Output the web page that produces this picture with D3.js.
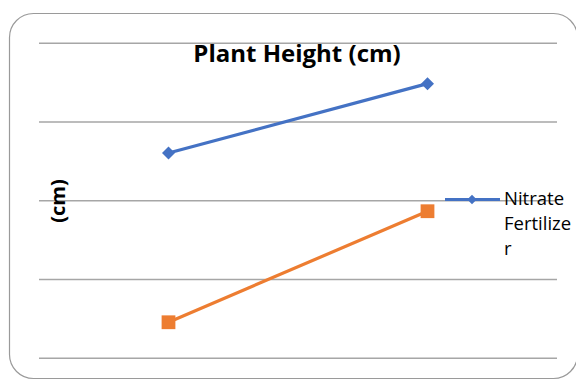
<!DOCTYPE html>
<html>
<head>
<meta charset="utf-8">
<script src="https://cdn.jsdelivr.net/npm/d3@7"></script>
<style>
  html, body { margin: 0; padding: 0; background: #ffffff; }
  svg { display: block; font-family: "Open Sans", sans-serif; }
</style>
</head>
<body>
<svg id="chart" width="576" height="381"></svg>
<script>
// Chart data
const categories = ["Week 1", "Week 2"];
const seriesNames = ["Nitrate Fertilizer", "Control"];
const nitrateValues = [26.0, 34.8];
const controlValues = [4.5, 18.6];
const yTicks = [0, 10, 20, 30, 40];
const chartTitle = "Plant Height (cm)";
const yAxisTitle = "(cm)";

const colors = ["#4472C4", "#ED7D31"];
const series = [
  { name: seriesNames[0], values: nitrateValues, color: colors[0], shape: "diamond" },
  { name: seriesNames[1], values: controlValues, color: colors[1], shape: "square" }
];

const svg = d3.select("#chart");

// Plot area
const plot = { left: 39, right: 557, top: 42.7, bottom: 357.7 };

const x = d3.scalePoint().domain(categories).range([plot.left, plot.right]).padding(0.5);
const y = d3.scaleLinear().domain([yTicks[0], yTicks[yTicks.length - 1]]).range([plot.bottom, plot.top]);

// Chart frame with rounded corners
svg.append("rect")
  .attr("x", 9.5).attr("y", 13.5)
  .attr("width", 568).attr("height", 365)
  .attr("rx", 24).attr("ry", 24)
  .attr("fill", "#ffffff")
  .attr("stroke", "#9a9a9a")
  .attr("stroke-width", 1.2);

// Horizontal gridlines
const grid = svg.append("g")
  .attr("transform", `translate(${plot.left},0)`)
  .call(d3.axisLeft(y).tickValues(yTicks).tickSize(-(plot.right - plot.left)).tickFormat(""));
grid.select(".domain").remove();
grid.selectAll(".tick line").attr("stroke", "#a6a6a6").attr("stroke-width", 1.5);

// Title
svg.append("text")
  .attr("x", 297).attr("y", 61.5)
  .attr("text-anchor", "middle")
  .attr("font-weight", "bold")
  .attr("font-size", 24)
  .attr("fill", "#000")
  .text(chartTitle);

// Vertical axis title
svg.append("text")
  .attr("transform", "translate(65,201) rotate(-90)")
  .attr("text-anchor", "middle")
  .attr("font-weight", "bold")
  .attr("font-size", 20)
  .attr("fill", "#000")
  .text(yAxisTitle);

const markerPath = (shape, size) => d3.symbol().type(d3.symbolSquare).size(size)();
const markerSize = { diamond: 85, square: 190 };
const markerRotate = { diamond: 45, square: 0 };

const line = d3.line()
  .x((d, i) => x(categories[i]))
  .y(d => y(d));

series.forEach(s => {
  svg.append("path")
    .datum(s.values)
    .attr("d", line)
    .attr("fill", "none")
    .attr("stroke", s.color)
    .attr("stroke-width", 3.2)
    .attr("stroke-linecap", "round");

  svg.append("g").selectAll("path")
    .data(s.values)
    .join("path")
    .attr("d", markerPath(s.shape, markerSize[s.shape]))
    .attr("transform", (d, i) => `translate(${x(categories[i])},${y(d)}) rotate(${markerRotate[s.shape]})`)
    .attr("fill", s.color);
});

// Legend (first series entry)
const legend = svg.append("g");
const lg = series[0];
legend.append("line")
  .attr("x1", 445).attr("x2", 500)
  .attr("y1", 199.5).attr("y2", 199.5)
  .attr("stroke", lg.color)
  .attr("stroke-width", 3);
legend.append("path")
  .attr("d", d3.symbol().type(d3.symbolSquare).size(44)())
  .attr("transform", "translate(472,199.5) rotate(45)")
  .attr("fill", lg.color);

// Wrap the legend label to a narrow column, breaking long words by character
const legendText = legend.append("text")
  .attr("x", 504).attr("y", 205)
  .attr("font-size", 18.5)
  .attr("fill", "#000");

function wrapLabel(textSel, label, maxWidth, lineHeight) {
  const probe = textSel.append("tspan");
  const fits = s => { probe.text(s); return probe.node().getComputedTextLength() <= maxWidth; };
  const lines = [];
  let current = "";
  label.split(" ").forEach(word => {
    const candidate = current ? current + " " + word : word;
    if (fits(candidate)) { current = candidate; return; }
    if (current) lines.push(current);
    current = "";
    for (const ch of word) {
      if (fits(current + ch)) current += ch;
      else { lines.push(current); current = ch; }
    }
  });
  if (current) lines.push(current);
  probe.remove();
  lines.forEach((l, i) => {
    textSel.append("tspan")
      .attr("x", textSel.attr("x"))
      .attr("dy", i === 0 ? 0 : lineHeight)
      .text(l);
  });
}
wrapLabel(legendText, lg.name, 72, 25);
</script>
</body>
</html>
